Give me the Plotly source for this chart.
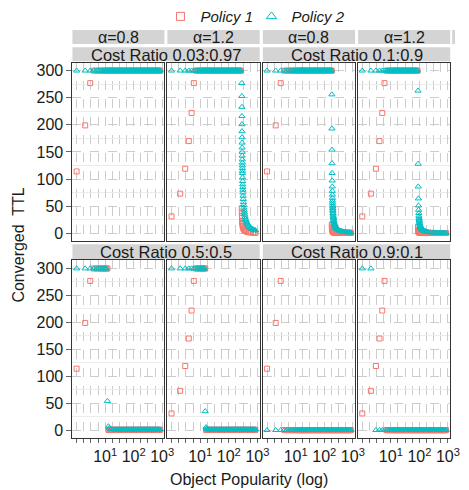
import plotly.graph_objects as go

# ---------------- data ----------------
cost_ratios = ["0.03:0.97", "0.1:0.9", "0.5:0.5", "0.9:0.1"]
alphas = ["0.8", "1.2"]
policy_names = ["Policy 1", "Policy 2"]
policy_colors = ["#F8766D", "#00BFC4"]
policy_symbols = ["square-open", "triangle-up-open"]

# object popularity levels present in the trace (log-spaced)
popularity = [1, 2, 3, 4, 5, 6, 7, 8, 9, 10, 11, 12, 13, 14, 15, 16, 17, 18, 19, 20,
              22, 24, 26, 28, 30, 33, 36, 39, 42, 46, 50, 54, 58, 63, 68, 74, 80, 86,
              93, 100, 108, 117, 126, 136, 147, 158, 170, 183, 197, 212, 228, 245, 264,
              284, 306, 330, 355, 382, 411, 443, 477, 513, 553, 595, 641, 690, 743, 800, 850]
ttl_cap = 300

# Policy 1 TTL of the least popular objects
p1_head_x_a08 = [1, 2, 3]
p1_head_y_a08 = [114, 199, 277]
p1_head_x_a12 = [1, 2, 3, 4, 5, 6]
p1_head_y_a12 = [31, 73, 119, 170, 222, 277]

# panels ordered: (0.03:0.97,a0.8),(0.03:0.97,a1.2),(0.1:0.9,a0.8),(0.1:0.9,a1.2),(0.5,..),(0.5,..),(0.9,..),(0.9,..)
# range of popularity held at the TTL cap
p1_plateau = [(4, 850), (7, 283), (4, 183), (7, 88), (4, 12), (7, 15), None, None]
p2_plateau = [(1, 850), (1, 283), (1, 183), (1, 88), (1, 11), (1, 14), None, (1, 2)]

# decaying part after the cap
p1_tail_x_c003_a12 = [284, 286, 288, 290, 293, 296, 300, 305, 310, 320, 335, 350, 375, 400, 450, 520, 600, 700, 780, 850]
p1_tail_y_c003_a12 = [46, 38, 32, 28, 23, 20, 17, 14, 12, 9, 7, 5.5, 4.1, 3.3, 2.4, 1.7, 1.3, 1.0, 0.85, 0.7]
p2_tail_x_c003_a12 = [284, 285, 286, 287, 288, 289, 290, 291, 292, 293, 294, 295, 296, 297, 298, 299, 300,
                      302, 304, 306, 308, 310, 313, 316, 320, 325, 330, 336, 343, 350, 360, 370, 385, 400,
                      420, 440, 460, 490, 520, 560, 600, 650, 700, 760, 820, 850]
p2_tail_y_c003_a12 = [277, 253, 233, 216, 201, 188, 177, 167, 158, 150, 143, 136, 130, 125, 120, 115, 111,
                      103, 96, 90, 85, 80, 75, 69, 63, 57, 52, 47, 42, 38, 34, 30, 26, 23,
                      20, 18, 16, 14, 12, 10.3, 9, 7.8, 6.9, 6, 5.4, 5.1]
p1_tail_x_c01_a08 = [184, 185, 186, 188, 190, 193, 196, 200, 206, 214, 225]
p1_tail_y_c01_a08 = [16, 12, 9.5, 7, 5.5, 4.2, 3.4, 2.6, 2, 1.5, 1.1]
p2_tail_x_c01_a08 = [184, 185, 186, 187, 188, 189, 190, 191, 192, 193, 194, 195, 196, 197, 198, 199, 200,
                     202, 204, 206, 208, 210, 213, 216, 220, 225, 230, 236, 243, 250, 260, 270, 285, 300,
                     320, 340, 365, 390, 420, 450, 490, 530, 580, 630, 690, 750, 800, 850]
p2_tail_y_c01_a08 = [256, 193, 154, 129, 111, 97, 86, 78, 71, 65, 60, 56, 52, 49, 46, 43, 41,
                     37, 34, 31, 29, 27, 24, 22, 20, 18, 16, 14, 12.6, 11.3, 9.9, 8.8, 7.5, 6.6,
                     5.6, 4.9, 4.2, 3.7, 3.3, 2.9, 2.5, 2.2, 2.0, 1.7, 1.5, 1.4, 1.3, 1.2]
p1_tail_x_c01_a12 = [89, 90, 91, 92, 94, 97, 100, 105, 112]
p1_tail_y_c01_a12 = [12, 6, 4, 3, 2, 1.3, 1, 0.7, 0.5]
p2_tail_x_c01_a12 = [89, 90, 91, 92, 93, 94, 95, 96, 97, 98, 99, 100, 102, 104, 106, 108, 110,
                     113, 116, 119, 124, 130, 138, 146, 158, 171, 188, 213, 245, 280, 320, 370,
                     420, 480, 550, 620, 700, 780, 850]
p2_tail_y_c01_a12 = [263, 128, 86, 64, 51, 43, 37, 32, 28, 25, 23, 21, 18, 16, 14, 12.5, 11.4,
                     10, 9, 8, 7, 6, 5, 4.3, 3.6, 3, 2.5, 2, 1.6, 1.3, 1.1, 0.9,
                     0.8, 0.7, 0.6, 0.5, 0.45, 0.4, 0.37]
p2_tail_x_c05_a08 = [12, 13, 14, 16, 20]
p2_tail_y_c05_a08 = [54, 7, 3.8, 2, 1.2]
p2_tail_x_c05_a12 = [15, 16, 17, 19]
p2_tail_y_c05_a12 = [35, 5, 2.5, 1.5]

p1_tail_x = [[], p1_tail_x_c003_a12, p1_tail_x_c01_a08, p1_tail_x_c01_a12, [], [], [], []]
p1_tail_y = [[], p1_tail_y_c003_a12, p1_tail_y_c01_a08, p1_tail_y_c01_a12, [], [], [], []]
p2_tail_x = [[], p2_tail_x_c003_a12, p2_tail_x_c01_a08, p2_tail_x_c01_a12, p2_tail_x_c05_a08, p2_tail_x_c05_a12, [], []]
p2_tail_y = [[], p2_tail_y_c003_a12, p2_tail_y_c01_a08, p2_tail_y_c01_a12, p2_tail_y_c05_a08, p2_tail_y_c05_a12, [], []]

# near-zero TTL for the most popular objects: (from popularity, TTL)
p1_floor = [None, None, (228, 0.5), (117, 0.3), (13, 0.5), (16, 0.5), (4, 0), (7, 0)]
p2_floor = [None, None, None, None, (22, 1), (20, 1), (1, 0), (3, 0)]

# axes labels
y_tick_values = [0, 50, 100, 150, 200, 250, 300]
y_minor_values = [25, 75, 125, 175, 225, 275]
x_label_exponents = [1, 2, 3]
x_tick_labels = ["10<sup>1</sup>", "10<sup>2</sup>", "10<sup>3</sup>"]
x_minor_exponents = [0, 0.25, 0.5, 0.75, 1.25, 1.5, 1.75, 2.25, 2.5, 2.75]


def build(head_x, head_y, plateau, tail_x, tail_y, floor):
    xs, ys = list(head_x), list(head_y)
    if plateau:
        lo, hi = plateau
        pts = [v for v in popularity if lo <= v <= hi]
        xs += pts
        ys += [ttl_cap] * len(pts)
    xs += list(tail_x)
    ys += list(tail_y)
    if floor:
        lo, val = floor
        pts = [v for v in popularity if v >= lo]
        xs += pts
        ys += [val] * len(pts)
    return xs, ys


# ---------------- layout geometry ----------------
W, H = 469, 490
col_px = [(74.0, 168.0), (171.0, 265.3), (268.6, 362.8), (365.9, 460.0)]
row_px = [(61.8, 241.3), (260.5, 439.0)]
FONT = "Liberation Sans, Arial, sans-serif"
TXT = "#1a1a1a"


def px_x(v):
    return v / W


def px_y(v):
    return 1 - v / H


def label(text, x, y, size=16, **kw):
    return dict(text=text, x=px_x(x), y=px_y(y), xref="paper", yref="paper", showarrow=False,
                xanchor="center", yanchor="middle",
                font=dict(family=FONT, size=size, color=TXT), **kw)


fig = go.Figure()
layout_axes = {}
annotations = []
shapes = []

for p in range(8):
    c_idx, a_idx = divmod(p, 2)
    row = c_idx // 2
    col = (c_idx % 2) * 2 + a_idx
    k = p + 1
    xname = "x" if k == 1 else f"x{k}"
    yname = "y" if k == 1 else f"y{k}"

    if a_idx == 0:
        hx, hy = p1_head_x_a08, p1_head_y_a08
    else:
        hx, hy = p1_head_x_a12, p1_head_y_a12
    series = [
        build(hx, hy, p1_plateau[p], p1_tail_x[p], p1_tail_y[p], p1_floor[p]),
        build([], [], p2_plateau[p], p2_tail_x[p], p2_tail_y[p], p2_floor[p]),
    ]
    for s in range(2):
        xs, ys = series[s]
        fig.add_trace(go.Scatter(
            x=xs, y=ys, mode="markers", xaxis=xname, yaxis=yname,
            showlegend=False, hoverinfo="skip",
            marker=dict(symbol=policy_symbols[s], size=5 if s == 0 else 5.5,
                        color=policy_colors[s], line=dict(width=1, color=policy_colors[s])),
        ))

    x0, x1 = col_px[col]
    y0, y1 = row_px[row]
    bottom = row == 1
    left = col == 0
    layout_axes[f"xaxis{'' if k == 1 else k}"] = dict(
        domain=[px_x(x0), px_x(x1)], anchor=yname, type="log",
        range=[-0.1465, 3.077],
        tickvals=[10 ** e for e in x_label_exponents], ticktext=x_tick_labels,
        showticklabels=bottom, ticks="outside" if bottom else "", ticklen=4,
        tickcolor="#666", tickwidth=1,
        tickfont=dict(family=FONT, size=16, color=TXT),
        showgrid=True, gridcolor="#cccccc", griddash="dash", gridwidth=1,
        minor=dict(tickvals=[10 ** e for e in x_minor_exponents],
                   ticks="outside" if bottom else "", ticklen=4, tickcolor="#666", tickwidth=1,
                   showgrid=True, gridcolor="#cccccc", griddash="dash", gridwidth=1),
        showline=True, mirror=True, linecolor="#333333", linewidth=1, zeroline=False,
    )
    layout_axes[f"yaxis{'' if k == 1 else k}"] = dict(
        domain=[px_y(y1), px_y(y0)], anchor=xname, range=[-15, 315],
        tickvals=y_tick_values, ticktext=[str(v) for v in y_tick_values],
        showticklabels=left, ticks="outside" if left else "", ticklen=5,
        tickcolor="#666", tickwidth=1,
        tickfont=dict(family=FONT, size=16, color=TXT),
        showgrid=True, gridcolor="#cccccc", griddash="dash", gridwidth=1,
        minor=dict(tickvals=y_minor_values, showgrid=True, gridcolor="#ececec", griddash="solid"),
        showline=True, mirror=True, linecolor="#333333", linewidth=1, zeroline=False,
    )

# strips
STRIP = "#d4d4d4"
for col in range(4):
    x0, x1 = col_px[col]
    shapes.append(dict(type="rect", xref="paper", yref="paper", x0=px_x(x0), x1=px_x(x1),
                       y0=px_y(43.3), y1=px_y(29), fillcolor=STRIP, line=dict(width=0), layer="below"))
    annotations.append(label("\u03b1=" + alphas[col % 2], (x0 + x1) / 2, 36.4))
shapes.append(dict(type="rect", xref="paper", yref="paper", x0=px_x(462), x1=px_x(465),
                   y0=px_y(43.3), y1=px_y(29), fillcolor=STRIP, line=dict(width=0), layer="below"))

for c_idx in range(4):
    row = c_idx // 2
    pair = c_idx % 2
    x0 = col_px[pair * 2][0]
    x1 = col_px[pair * 2 + 1][1]
    if row == 0:
        ya, yb = 46.5, 60.5
    else:
        ya, yb = 244.3, 259.3
    shapes.append(dict(type="rect", xref="paper", yref="paper", x0=px_x(x0), x1=px_x(x1),
                       y0=px_y(yb), y1=px_y(ya), fillcolor=STRIP, line=dict(width=0), layer="below"))
    annotations.append(label("Cost Ratio " + cost_ratios[c_idx], (x0 + x1) / 2, (ya + yb) / 2 + 0.3, size=16.5))

annotations.append(label("Object Popularity (log)", 254, 480))
annotations.append(label("Converged  TTL", 18, 245, textangle=-90))

# legend entries (one legend box per policy so their spacing matches)
legend_left_px = [164, 257]
for s in range(2):
    fig.add_trace(go.Scatter(
        x=[None], y=[None], mode="markers", name=policy_names[s], xaxis="x", yaxis="y",
        legend="legend" if s == 0 else "legend2",
        marker=dict(symbol=policy_symbols[s], size=8 if s == 0 else 9, color=policy_colors[s],
                    line=dict(width=1, color=policy_colors[s])),
    ))

legend_style = dict(orientation="h", xanchor="left", y=px_y(15.7), yanchor="middle",
                    font=dict(family=FONT, size=15, color=TXT, style="italic"),
                    bgcolor="rgba(0,0,0,0)", itemwidth=30)

fig.update_layout(
    width=W, height=H, margin=dict(l=0, r=0, t=0, b=0),
    paper_bgcolor="white", plot_bgcolor="white",
    showlegend=True,
    legend=dict(x=px_x(legend_left_px[0]), **legend_style),
    legend2=dict(x=px_x(legend_left_px[1]), **legend_style),
    annotations=annotations, shapes=shapes,
    **layout_axes,
)

fig.write_html("out.html")
